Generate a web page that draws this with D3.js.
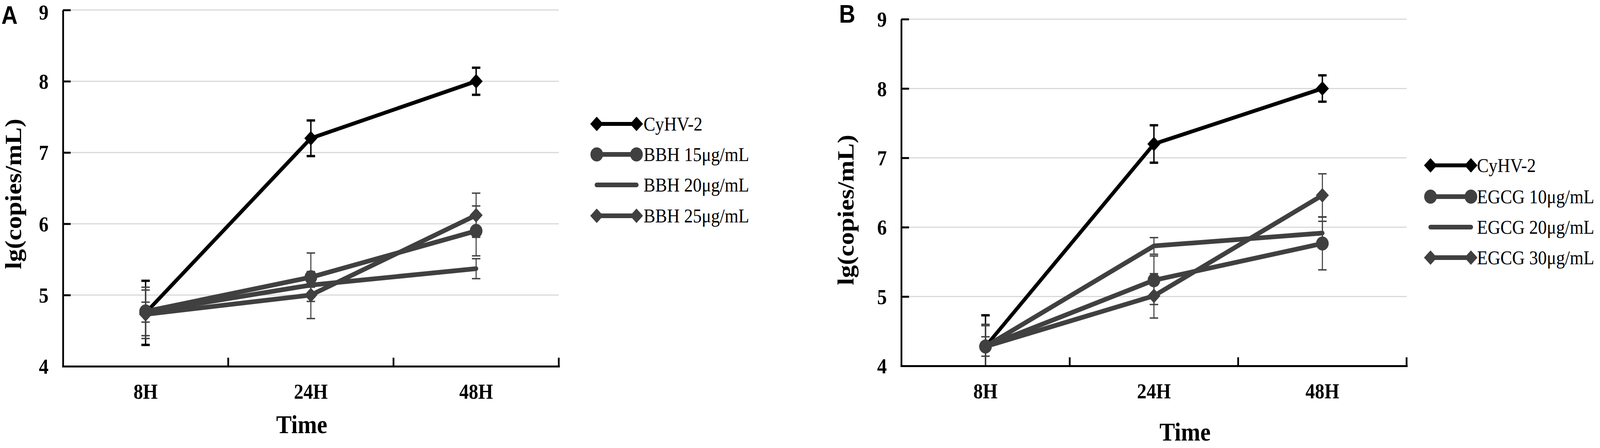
<!DOCTYPE html>
<html>
<head>
<meta charset="utf-8">
<script src="https://cdn.jsdelivr.net/npm/d3@7"></script>
<style>
  html, body { margin: 0; padding: 0; background: #ffffff; overflow: hidden; width: 100%; height: 100%; }
  svg { display: block; width: 100vw; height: 100vh; }
</style>
</head>
<body>
<script>
// ---------------- DATA ----------------
const categories = ["8H", "24H", "48H"];
const yTickValues = [4, 5, 6, 7, 8, 9];

// Panel A
const namesA = ["CyHV-2", "BBH 15μg/mL", "BBH 20μg/mL", "BBH 25μg/mL"];
const aCyHV   = [4.75, 7.20, 8.00];
const aCyHVErr = [0.45, 0.25, 0.19];
const aBBH15  = [4.77, 5.25, 5.90];
const aBBH15Err = [0.34, 0.34, 0.35];
const aBBH20  = [4.76, 5.14, 5.37];
const aBBH20Err = [0.14, 0.03, 0.14];
const aBBH25  = [4.73, 5.00, 6.12];
const aBBH25Err = [0.34, 0.33, 0.31];

// Panel B
const namesB = ["CyHV-2", "EGCG 10μg/mL", "EGCG 20μg/mL", "EGCG 30μg/mL"];
const bCyHV   = [4.28, 7.20, 8.00];
const bCyHVErr = [0.45, 0.27, 0.19];
const bEGCG10 = [4.28, 5.235, 5.765];
const bEGCG10Err = [0.32, 0.35, 0.38];
const bEGCG20 = [4.28, 5.73, 5.915];
const bEGCG20Err = [0.14, 0.12, 0.17];
const bEGCG30 = [4.28, 5.01, 6.46];
const bEGCG30Err = [0.30, 0.32, 0.31];

const markerTypes = ["diamond", "circle", "none", "diamond"];
const seriesColors = ["#000000", "#404040", "#404040", "#404040"];

// ---------------- LAYOUT ----------------
const W = 4550, H = 1146;
const svg = d3.select("body").append("svg")
  .attr("viewBox", `0 0 ${W} ${H}`)
  .attr("preserveAspectRatio", "none");
svg.append("rect").attr("width", W).attr("height", H).attr("fill", "#fff");

const serif = "'Liberation Serif', 'Times New Roman', Times, serif";
const sans = "'Liberation Sans', Arial, Helvetica, sans-serif";

const panels = [
  {
    letter: "A", letterX: 4, letterY: 61,
    x0: 179, x1: 1589, yTop: 25.6, yBot: 937,
    yTitleX: 38, yTitleY: 496,
    timeX: 858, timeY: 1108,
    legendX1: 1697, legendX2: 1810, legendTextX: 1830, legendRows: [317, 395, 473, 552],
    names: namesA,
    values: [aCyHV, aBBH15, aBBH20, aBBH25],
    errors: [aCyHVErr, aBBH15Err, aBBH20Err, aBBH25Err]
  },
  {
    letter: "B", letterX: 2386, letterY: 58,
    x0: 2563, x1: 4000, yTop: 49, yBot: 936,
    yTitleX: 2405, yTitleY: 537,
    timeX: 3370, timeY: 1127,
    legendX1: 4068, legendX2: 4183, legendTextX: 4200, legendRows: [423, 503, 581, 659],
    names: namesB,
    values: [bCyHV, bEGCG10, bEGCG20, bEGCG30],
    errors: [bCyHVErr, bEGCG10Err, bEGCG20Err, bEGCG30Err]
  }
];

const diamondGen = d3.symbol().type(d3.symbolSquare).size(690);
const circleGen = d3.symbol().type(d3.symbolCircle).size(1018);

function drawMarker(g, type, cx, cy, color) {
  if (type === "diamond") {
    g.append("path").attr("d", diamondGen())
      .attr("transform", `translate(${cx},${cy}) rotate(45)`)
      .attr("fill", color);
  } else if (type === "circle") {
    g.append("path").attr("d", circleGen())
      .attr("transform", `translate(${cx},${cy})`)
      .attr("fill", color);
  }
}

panels.forEach(p => {
  const g = svg.append("g");

  const x = d3.scaleBand().domain(categories).range([p.x0, p.x1]).padding(0);
  const y = d3.scaleLinear().domain([4, 9]).range([p.yBot, p.yTop]);
  const cx = c => x(c) + x.bandwidth() / 2;

  // gridlines
  g.append("g").selectAll("line")
    .data(yTickValues.filter(v => v > 4))
    .join("line")
    .attr("x1", p.x0).attr("x2", p.x1)
    .attr("y1", d => y(d)).attr("y2", d => y(d))
    .attr("stroke", "#d9d9d9").attr("stroke-width", 3);

  // series
  p.values.forEach((vals, si) => {
    const color = seriesColors[si];
    const isBlack = si === 0;
    const sg = g.append("g");
    // error bars
    vals.forEach((v, i) => {
      const e = p.errors[si][i];
      const hi = Math.min(9, v + e), lo = Math.max(4, v - e);
      const xx = cx(categories[i]);
      sg.append("line").attr("x1", xx).attr("x2", xx)
        .attr("y1", y(hi)).attr("y2", y(lo))
        .attr("stroke", color).attr("stroke-width", isBlack ? 4 : 3);
      [hi, lo].forEach(b => {
        if (b === 4) return;
        sg.append("line").attr("x1", xx - 12).attr("x2", xx + 12)
          .attr("y1", y(b)).attr("y2", y(b))
          .attr("stroke", color).attr("stroke-width", isBlack ? 6 : 3.5);
      });
    });
    // line
    const line = d3.line().x((d, i) => cx(categories[i])).y(d => y(d));
    sg.append("path").datum(vals).attr("d", line)
      .attr("fill", "none").attr("stroke", color)
      .attr("stroke-width", isBlack ? 10 : 12)
      .attr("stroke-linecap", "round").attr("stroke-linejoin", "round");
    // markers
    vals.forEach((v, i) => drawMarker(sg, markerTypes[si], cx(categories[i]), y(v), color));
  });

  // y axis
  const yAxis = d3.axisLeft(y).tickValues(yTickValues).tickFormat(d3.format("d"))
    .tickSizeInner(-22).tickSizeOuter(0).tickPadding(41);
  const ya = g.append("g").attr("transform", `translate(${p.x0},0)`).call(yAxis);
  ya.select(".domain").attr("stroke", "#000").attr("stroke-width", 5);
  ya.selectAll(".tick line").attr("stroke", "#000").attr("stroke-width", 5);
  ya.selectAll(".tick text").attr("font-family", serif).attr("font-weight", "bold")
    .attr("font-size", 55).attr("fill", "#000")
    .attr("dy", d => (y(d) < 40 ? "0.44em" : "0.34em"));

  // x axis
  const xAxis = d3.axisBottom(x).tickSizeInner(0).tickSizeOuter(0).tickPadding(45);
  const xa = g.append("g").attr("transform", `translate(0,${p.yBot})`).call(xAxis);
  xa.select(".domain").attr("stroke", "#000").attr("stroke-width", 5)
    .attr("stroke-linecap", "square");
  xa.selectAll(".tick text").attr("font-family", serif).attr("font-weight", "bold")
    .attr("font-size", 54).attr("fill", "#000");
  // x tick marks at category boundaries (inward)
  const bounds = categories.slice(1).map(c => x(c)).concat([x.range()[1]]);
  g.append("g").selectAll("line").data(bounds).join("line")
    .attr("x1", d => d).attr("x2", d => d)
    .attr("y1", p.yBot).attr("y2", p.yBot - 22)
    .attr("stroke", "#000").attr("stroke-width", 5);

  // axis titles
  g.append("text").text("lg(copies/mL)")
    .attr("transform", `translate(${p.yTitleX},${p.yTitleY}) rotate(-90)`)
    .attr("text-anchor", "middle").attr("dy", "0.33em")
    .attr("font-family", serif).attr("font-weight", "bold").attr("font-size", 66)
    .attr("fill", "#000");
  g.append("text").text("Time")
    .attr("x", p.timeX).attr("y", p.timeY)
    .attr("text-anchor", "middle")
    .attr("font-family", serif).attr("font-weight", "bold").attr("font-size", 66)
    .attr("fill", "#000");

  // panel letter
  g.append("text").text(p.letter)
    .attr("x", p.letterX).attr("y", p.letterY)
    .attr("font-family", sans).attr("font-weight", "bold").attr("font-size", 64)
    .attr("fill", "#000");

  // legend
  p.names.forEach((name, si) => {
    const ry = p.legendRows[si];
    const color = seriesColors[si];
    const lg = g.append("g");
    lg.append("line").attr("x1", p.legendX1).attr("x2", p.legendX2)
      .attr("y1", ry).attr("y2", ry)
      .attr("stroke", color).attr("stroke-width", si === 0 ? 10 : 12)
      .attr("stroke-linecap", "round");
    drawMarker(lg, markerTypes[si], p.legendX1, ry, color);
    drawMarker(lg, markerTypes[si], p.legendX2, ry, color);
    lg.append("text").text(name)
      .attr("x", p.legendTextX).attr("y", ry + 17)
      .attr("font-family", serif).attr("font-size", 50).attr("fill", "#000");
  });
});
</script>
</body>
</html>
